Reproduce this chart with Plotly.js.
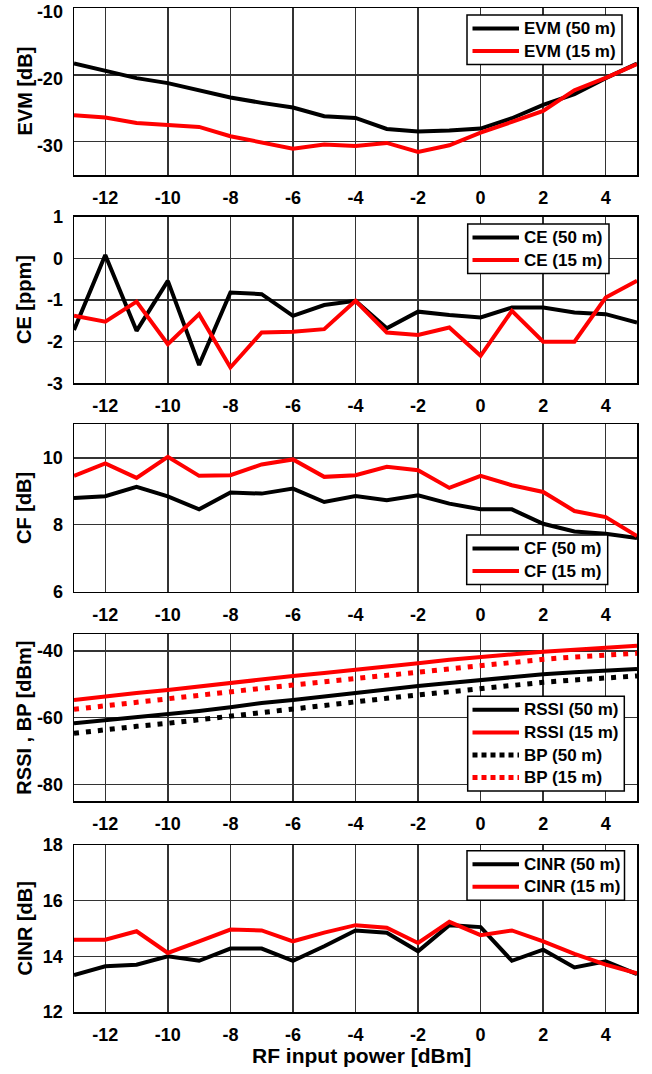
<!DOCTYPE html>
<html>
<head>
<meta charset="utf-8">
<script src="https://cdn.plot.ly/plotly-3.0.1.min.js"></script>
<style>html,body{margin:0;padding:0;background:#fff;}#chart{width:652px;height:1074px;}</style>
</head>
<body>
<div id="chart"></div>
<script>
// RF input power [dBm]
const rfPower = [-13,-12,-11,-10,-9,-8,-7,-6,-5,-4,-3,-2,-1,0,1,2,3,4,5];

const evm50 = [-18.3,-19.4,-20.5,-21.25,-22.35,-23.4,-24.2,-24.9,-26.2,-26.45,-28.1,-28.5,-28.35,-28.05,-26.5,-24.5,-22.9,-20.5,-18.3];
const evm15 = [-26.05,-26.4,-27.2,-27.5,-27.8,-29.2,-30.05,-31.05,-30.45,-30.65,-30.2,-31.55,-30.55,-28.65,-27.05,-25.4,-22.3,-20.45,-18.4];

const ce50 = [-1.72,0.08,-1.74,-0.54,-2.56,-0.82,-0.86,-1.38,-1.12,-1.02,-1.68,-1.28,-1.36,-1.42,-1.18,-1.18,-1.3,-1.34,-1.54];
const ce15 = [-1.38,-1.52,-1.04,-2.06,-1.34,-2.62,-1.78,-1.76,-1.7,-1.02,-1.78,-1.84,-1.66,-2.34,-1.26,-2.0,-2.0,-0.94,-0.54];

const cf50 = [8.8,8.85,9.13,8.85,8.46,8.96,8.93,9.08,8.68,8.86,8.73,8.88,8.63,8.46,8.46,8.03,7.8,7.73,7.6];
const cf15 = [9.46,9.83,9.4,10.03,9.46,9.48,9.8,9.95,9.43,9.48,9.73,9.63,9.1,9.46,9.18,8.98,8.41,8.23,7.66];

const rssi50 = [-61.7,-60.8,-59.9,-59.0,-58.0,-56.9,-55.6,-54.7,-53.6,-52.5,-51.5,-50.5,-49.6,-48.7,-47.8,-47.0,-46.4,-45.9,-45.4];
const rssi15 = [-54.7,-53.5,-52.6,-51.7,-50.6,-49.5,-48.5,-47.5,-46.6,-45.7,-44.7,-43.7,-42.6,-41.7,-41.0,-40.2,-39.6,-39.0,-38.4];
const bp50 = [-64.7,-63.5,-62.6,-61.7,-60.6,-59.5,-58.3,-57.2,-56.2,-55.2,-54.2,-53.2,-52.2,-51.2,-50.3,-49.4,-48.7,-48.0,-47.5];
const bp15 = [-57.5,-56.4,-55.5,-54.5,-53.3,-52.2,-51.2,-50.2,-49.2,-48.2,-47.2,-46.2,-45.2,-44.2,-43.3,-42.5,-41.8,-41.2,-40.7];

const cinr50 = [13.33,13.64,13.7,14.0,13.84,14.28,14.28,13.84,14.36,14.93,14.85,14.18,15.12,15.05,13.84,14.24,13.6,13.82,13.36];
const cinr15 = [14.6,14.6,14.9,14.12,14.54,14.96,14.93,14.54,14.85,15.12,15.03,14.48,15.24,14.76,14.93,14.54,14.09,13.7,13.39];

// axis labels
const yTitles = ['EVM [dB]','CE [ppm]','CF [dB]','RSSI , BP [dBm]','CINR [dB]'];
const xTitle = 'RF input power [dBm]';
const xTickVals = [-12,-10,-8,-6,-4,-2,0,2,4];
const xTickText = ['-12','-10','-8','-6','-4','-2','0','2','4'];
const yTickVals = [[-30,-20,-10],[-3,-2,-1,0,1],[6,8,10],[-80,-60,-40],[12,14,16,18]];
const yTickText = [['-30','-20','-10'],['-3','-2','-1','0','1'],['6','8','10'],['-80','-60','-40'],['12','14','16','18']];

const BLACK = '#000000', RED = '#ff0000';
const FONT = 'Liberation Sans, Arial, sans-serif';

// plot geometry (pixels)
const PL = 74, PR = 637, PT = 8, PB = 1012;
const px2x = p => (p - PL) / (PR - PL);
const px2y = p => (PB - p) / (PB - PT);

function tr(y, name, color, panel, dotted) {
  return {
    x: rfPower, y: y, name: name, type: 'scatter', mode: 'lines',
    line: dotted ? {color: color, width: 5, dash: '5px,7px'} : {color: color, width: 4},
    xaxis: 'x' + (panel === 1 ? '' : panel), yaxis: 'y' + (panel === 1 ? '' : panel),
    showlegend: false, meta: {panel: panel, dotted: !!dotted}
  };
}

const data = [
  tr(evm50, 'EVM (50 m)', BLACK, 1), tr(evm15, 'EVM (15 m)', RED, 1),
  tr(ce50, 'CE (50 m)', BLACK, 2), tr(ce15, 'CE (15 m)', RED, 2),
  tr(cf50, 'CF (50 m)', BLACK, 3), tr(cf15, 'CF (15 m)', RED, 3),
  tr(rssi50, 'RSSI (50 m)', BLACK, 4), tr(rssi15, 'RSSI (15 m)', RED, 4),
  tr(bp50, 'BP (50 m)', BLACK, 4, true), tr(bp15, 'BP (15 m)', RED, 4, true),
  tr(cinr50, 'CINR (50 m)', BLACK, 5), tr(cinr15, 'CINR (15 m)', RED, 5)
];

const panelPx = [[8,175],[216.7,383.3],[424.3,591.7],[634.3,801],[845,1012]];
const yRanges = [[-35,-10],[-3,1],[6,11],[-85,-35],[12,18]];
// legend boxes: left, right, top (pixels)
const legendBox = [[467,622,15],[467.7,609,224],[466.7,607.7,535],[467.7,624.3,696.3],[467,624.5,850.7]];

const layout = {
  width: 652, height: 1074,
  margin: {l: PL, r: 652 - PR, t: PT, b: 1074 - PB},
  paper_bgcolor: '#fff', plot_bgcolor: '#fff',
  font: {family: FONT, color: '#000', size: 17, weight: 'bold'},
  annotations: [], shapes: [],
  showlegend: false
};

const axCommon = {
  showgrid: true, gridcolor: '#333333', gridwidth: 1.5,
  showline: true, linecolor: '#000', linewidth: 1.5, mirror: true,
  zeroline: false, ticks: '', ticklabelstandoff: 6, ticklabeloverflow: 'allow',
  tickfont: {family: FONT, size: 18, color: '#000', weight: 'bold'},
  fixedrange: true
};

for (let i = 0; i < 5; i++) {
  const s = i === 0 ? '' : String(i + 1);
  const dom = [px2y(panelPx[i][1]), px2y(panelPx[i][0])];
  layout['xaxis' + s] = Object.assign({}, axCommon, {
    range: [-13, 5], tickmode: 'array', tickvals: xTickVals, ticktext: xTickText, anchor: 'y' + s
  });
  layout['yaxis' + s] = Object.assign({}, axCommon, {
    range: yRanges[i], tickmode: 'array', tickvals: yTickVals[i], ticktext: yTickText[i],
    anchor: 'x' + s, domain: dom
  });
  layout.annotations.push({
    text: yTitles[i], xref: 'paper', yref: 'paper',
    x: px2x(24), y: (dom[0] + dom[1]) / 2,
    xanchor: 'center', yanchor: 'middle', textangle: -90, showarrow: false,
    font: {family: FONT, size: 20, color: '#000', weight: 'bold'}
  });

  // legend for this panel built from its traces
  const items = data.filter(t => t.meta.panel === i + 1);
  const [bl, br, bt] = legendBox[i];
  const step = 22.6, first = 13.5;
  const bb = bt + 2 * first + step * (items.length - 1);
  layout.shapes.push({
    type: 'rect', xref: 'paper', yref: 'paper',
    x0: px2x(bl), x1: px2x(br), y0: px2y(bb), y1: px2y(bt),
    line: {color: '#000', width: 1.5}, fillcolor: '#fff', layer: 'above'
  });
  items.forEach((t, k) => {
    const cy = bt + first + step * k;
    layout.shapes.push({
      type: 'line', xref: 'paper', yref: 'paper',
      x0: px2x(472.5), x1: px2x(519), y0: px2y(cy), y1: px2y(cy),
      line: t.meta.dotted ? {color: t.line.color, width: 5, dash: '5px,4px'} : {color: t.line.color, width: 4},
      layer: 'above'
    });
    layout.annotations.push({
      text: t.name, xref: 'paper', yref: 'paper', x: px2x(523), y: px2y(cy),
      xanchor: 'left', yanchor: 'middle', showarrow: false, borderpad: 0,
      font: {family: FONT, size: 17, color: '#000', weight: 'bold'}
    });
  });
}
// top panel: nudge its tick labels down so the top label stays inside the page
layout.yaxis.ticklabelshift = 4;

layout.annotations.push({
  text: xTitle, xref: 'paper', yref: 'paper', x: px2x(361), y: px2y(1055),
  xanchor: 'center', yanchor: 'middle', showarrow: false,
  font: {family: FONT, size: 21, color: '#000', weight: 'bold'}
});

Plotly.newPlot('chart', data, layout, {displayModeBar: false, staticPlot: true});
</script>
</body>
</html>
